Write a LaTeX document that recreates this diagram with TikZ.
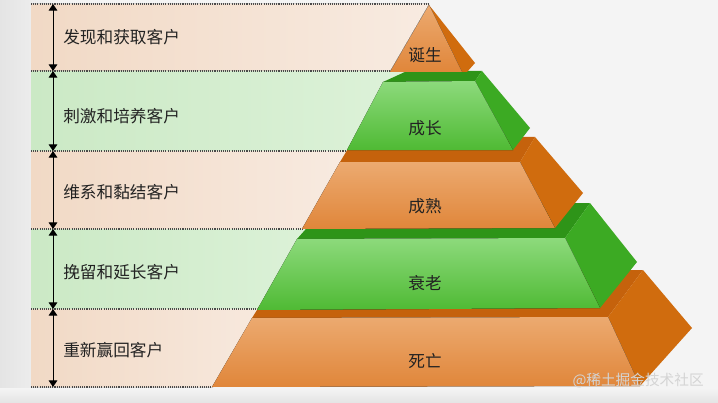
\documentclass[tikz,border=0pt]{standalone}
\usepackage{fontspec}
\setmainfont{Noto Sans CJK SC}
\usetikzlibrary{arrows.meta}

\definecolor{bggray}{HTML}{F4F4F4}
\definecolor{edgegray}{HTML}{E4E4E4}
\definecolor{bandor}{HTML}{F1D9C5}
\definecolor{bandorlight}{HTML}{F8EBE1}
\definecolor{bandgr}{HTML}{CBE9C5}
\definecolor{bandgrlight}{HTML}{DDF2D9}
\definecolor{orfronttop}{HTML}{ECAA70}
\definecolor{orfrontbot}{HTML}{E0863A}
\definecolor{ortop}{HTML}{C5620C}
\definecolor{orside}{HTML}{D06C0E}
\definecolor{grfronttop}{HTML}{8DDA7C}
\definecolor{grfrontbot}{HTML}{4FBA34}
\definecolor{grtop}{HTML}{2E9418}
\definecolor{grside}{HTML}{3CAA23}
\definecolor{dotgray}{HTML}{4A4A4A}
\definecolor{textgray}{HTML}{222222}
\definecolor{markgray}{HTML}{D4D4D4}

\begin{document}
\begin{tikzpicture}[x=0.75pt,y=-0.75pt]
				\tikzstyle{every node}=[font=\fontsize{12.5pt}{15pt}\selectfont,text=textgray,inner sep=0pt]
				\tikzstyle{divider}=[draw=dotgray,line width=1.1pt,dash pattern=on 0.8pt off 0.8pt]
				\tikzstyle{span}=[{Triangle[length=5pt,width=6.5pt]}-{Triangle[length=5pt,width=6.5pt]},line width=0.75pt,draw=black]
				\tikzstyle{orfront}=[top color=orfronttop,bottom color=orfrontbot]
				\tikzstyle{grfront}=[top color=grfronttop,bottom color=grfrontbot]
				\tikzstyle{band}=[anchor=west]
				\tikzstyle{stage}=[anchor=center]
				
				\useasboundingbox (0,0) rectangle (718,403);
				\fill[bggray] (0,0) rectangle (718,403);
				\fill[left color=edgegray,right color=bggray] (0,0) rectangle (60,403);
				\fill[top color=bggray,bottom color=edgegray] (0,388) rectangle (718,403);
				
				% bands behind the pyramid
				\fill[left color=bandor,right color=bandorlight] (31,4) -- (429,4) -- (390,71) -- (31,71) -- cycle;
				\fill[left color=bandgr,right color=bandgrlight] (31,71) -- (407,71) -- (347,151) -- (31,151) -- cycle;
				\fill[left color=bandor,right color=bandorlight] (31,151) -- (355,151) -- (302,229) -- (31,229) -- cycle;
				\fill[left color=bandgr,right color=bandgrlight] (31,229) -- (329,229) -- (257,309) -- (31,309) -- cycle;
				\fill[left color=bandor,right color=bandorlight] (31,309) -- (290,309) -- (212,387) -- (31,387) -- cycle;
				
				\foreach \y/\xend in {4/429,71/390,151/347,229/302,309/257,387/212}
					\draw[divider] (31,\y) -- (\xend,\y);
				
				% pyramid, bottom level first
				\fill[ortop] (252,318) -- (608,317) -- (643,270) -- (282,270) -- cycle;
				\fill[orside] (608,317) -- (643,270) -- (692,328) -- (640,386) -- cycle;
				\fill[orfront] (252,318) -- (608,317) -- (640,386) -- (212,387) -- cycle;
				
				\fill[grtop] (297,239) -- (565,238) -- (590,203) -- (329,203) -- cycle;
				\fill[grside] (565,238) -- (590,203) -- (637,262) -- (600,308) -- cycle;
				\fill[grfront] (297,239) -- (565,238) -- (600,308) -- (257,310) -- cycle;
				
				\fill[ortop] (340,162) -- (520,162) -- (535,137) -- (355,137) -- cycle;
				\fill[orside] (520,162) -- (535,137) -- (583,193) -- (555,228) -- cycle;
				\fill[orfront] (340,162) -- (520,162) -- (555,228) -- (302,229) -- cycle;
				
				\fill[grtop] (383,82) -- (475,81) -- (482,71) -- (407,71) -- cycle;
				\fill[grside] (475,81) -- (482,71) -- (530,128) -- (513,150) -- cycle;
				\fill[grfront] (383,82) -- (475,81) -- (513,150) -- (347,150) -- cycle;
				
				\fill[orside] (429,5) -- (475,63) -- (467,72) -- (462,72) -- cycle;
				\fill[orfront] (429,5) -- (462,72) -- (390,72) -- cycle;
				
				% arrows on the left
				\foreach \i/\y in {0/4,1/71,2/151,3/229,4/309,5/387}
					\coordinate (d\i) at (53,\y);
				\foreach \a/\b in {0/1,1/2,2/3,3/4,4/5}
					\draw[span] (d\a) -- (d\b);
				
				\node[band] (find) at (63,37) {发现和获取客户};
				\node[band] (grow) at (63,116) {刺激和培养客户};
				\node[band] (keep) at (63,192) {维系和黏结客户};
				\node[band] (hold) at (63,272) {挽留和延长客户};
				\node[band] (back) at (63,350) {重新赢回客户};
				
				\node[stage] (birth) at (425,55) {诞生};
				\node[stage] (growth) at (425,128) {成长};
				\node[stage] (mature) at (425,206) {成熟};
				\node[stage] (aging) at (425,283) {衰老};
				\node[stage] (death) at (425,361) {死亡};
				
				\node[anchor=east,text=markgray,font=\fontsize{11pt}{13pt}\selectfont] (mark) at (704,381) {@稀土掘金技术社区};
				
				\end{tikzpicture}
\end{document}
